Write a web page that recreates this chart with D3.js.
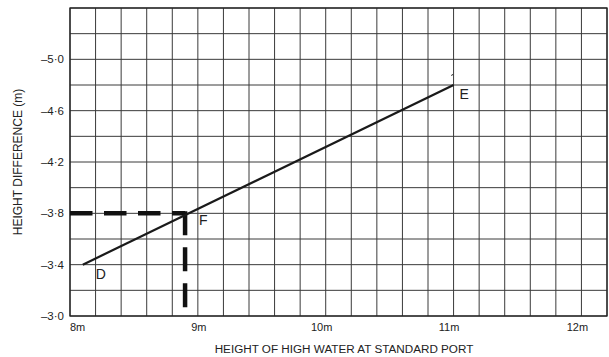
<!DOCTYPE html>
<html>
<head>
<meta charset="utf-8">
<script src="https://cdn.jsdelivr.net/npm/d3@7"></script>
<style>
  body { margin: 0; background: #fff; }
  text { font-family: "Liberation Sans", Arial, sans-serif; fill: #222; }
</style>
</head>
<body>
<div id="chart"></div>
<script>
// tick labels
const xTicks = [8, 9, 10, 11, 12];
const xTickLabels = ["8m", "9m", "10m", "11m", "12m"];
const yTicks = [-3.0, -3.4, -3.8, -4.2, -4.6, -5.0];
const yTickLabels = ["\u20133\u00b70", "\u20133\u00b74", "\u20133\u00b78", "\u20134\u00b72", "\u20134\u00b76", "\u20135\u00b70"];

// the D-E line and the F construction point
const lineX = [8.1, 11.0];
const lineY = [-3.4, -4.8];
const pointNames = ["D", "E"];
const fPoint = [8.9, -3.8];

const margin = { top: 8, right: 2, bottom: 41, left: 70 };
const width = 609 - margin.left - margin.right;
const height = 357 - margin.top - margin.bottom;

const xScale = d3.scaleLinear().domain([8, 12.2]).range([0, width]);
const yScale = d3.scaleLinear().domain([-3.0, -5.4]).range([height, 0]);

const svg = d3.select('#chart')
    .append('svg')
    .attr('width', 609)
    .attr('height', 357)
    .append('g')
    .attr('transform', `translate(${margin.left}, ${margin.top})`);

// grid, one line each 0.2
const gridX = d3.range(0, 22).map(i => 8 + i / 5);
const gridY = d3.range(0, 13).map(i => -3 - i / 5);

svg.append('g').attr('class', 'grid')
    .selectAll('line.v')
    .data(gridX)
    .enter()
    .append('line')
    .attr('x1', d => xScale(d))
    .attr('x2', d => xScale(d))
    .attr('y1', 0)
    .attr('y2', height)
    .attr('stroke', '#3a3a3a')
    .attr('stroke-width', 1);

svg.append('g').attr('class', 'grid')
    .selectAll('line.h')
    .data(gridY)
    .enter()
    .append('line')
    .attr('x1', 0)
    .attr('x2', width)
    .attr('y1', d => yScale(d))
    .attr('y2', d => yScale(d))
    .attr('stroke', '#3a3a3a')
    .attr('stroke-width', 1);

svg.append('rect')
    .attr('x', 0).attr('y', 0)
    .attr('width', width).attr('height', height)
    .attr('fill', 'none')
    .attr('stroke', '#222')
    .attr('stroke-width', 1.3);

// axis labels (hand placed in the original, hence the nudges)
const xLabelNudge = [0, 1, -4, -4.5, -4];
svg.append('g')
    .selectAll('text')
    .data(xTicks)
    .enter()
    .append('text')
    .attr('x', (d, i) => xScale(d) + xLabelNudge[i])
    .attr('y', height + 15)
    .attr('text-anchor', (d, i) => i === 0 ? 'start' : 'middle')
    .style('font-size', '11px')
    .text((d, i) => xTickLabels[i]);

svg.append('g')
    .selectAll('text')
    .data(yTicks)
    .enter()
    .append('text')
    .attr('x', -6)
    .attr('y', d => yScale(d) + 4)
    .attr('text-anchor', 'end')
    .style('font-size', '11.5px')
    .text((d, i) => yTickLabels[i]);

svg.append('text')
    .attr('x', width / 2 + 5.5)
    .attr('y', height + 37)
    .attr('text-anchor', 'middle')
    .style('font-size', '11.7px')
    .text('HEIGHT OF HIGH WATER AT STANDARD PORT');

svg.append('text')
    .attr('transform', `translate(${-48}, ${height / 2}) rotate(-90)`)
    .attr('text-anchor', 'middle')
    .style('font-size', '12px')
    .text('HEIGHT DIFFERENCE (m)');

// dashed construction lines through F
svg.append('line')
    .attr('x1', xScale(8)).attr('x2', xScale(fPoint[0]))
    .attr('y1', yScale(fPoint[1])).attr('y2', yScale(fPoint[1]))
    .attr('stroke', '#111')
    .attr('stroke-width', 4.5)
    .attr('stroke-dasharray', '22.5,11.5');

svg.append('line')
    .attr('x1', xScale(fPoint[0])).attr('x2', xScale(fPoint[0]))
    .attr('y1', yScale(fPoint[1]) - 2).attr('y2', yScale(-3.0))
    .attr('stroke', '#111')
    .attr('stroke-width', 4.5)
    .attr('stroke-dasharray', '24,12');

// D-E line
svg.append('line')
    .attr('x1', xScale(lineX[0])).attr('x2', xScale(lineX[1]))
    .attr('y1', yScale(lineY[0])).attr('y2', yScale(lineY[1]))
    .attr('stroke', '#1a1a1a')
    .attr('stroke-width', 2.2);

// small tick above E
svg.append('line')
    .attr('x1', xScale(lineX[1]) - 2).attr('x2', xScale(lineX[1]) - 1)
    .attr('y1', yScale(lineY[1]) - 9).attr('y2', yScale(lineY[1]) - 11)
    .attr('stroke', '#333')
    .attr('stroke-width', 1);

// point letters
const labels = [
    { t: pointNames[0], x: lineX[0], y: lineY[0], dx: 13, dy: 14 },
    { t: pointNames[1], x: lineX[1], y: lineY[1], dx: 6, dy: 14 },
    { t: 'F', x: fPoint[0], y: fPoint[1], dx: 14, dy: 12 }
];
svg.append('g')
    .selectAll('text')
    .data(labels)
    .enter()
    .append('text')
    .attr('x', d => xScale(d.x) + d.dx)
    .attr('y', d => yScale(d.y) + d.dy)
    .style('font-size', '14px')
    .text(d => d.t);
</script>
</body>
</html>
